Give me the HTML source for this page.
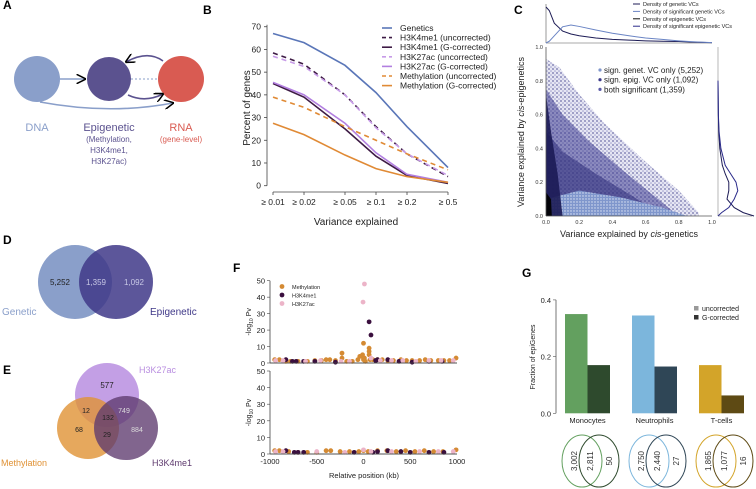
<!DOCTYPE html>
<html><head><meta charset="utf-8"><style>
body{margin:0;background:#fff}
svg{display:block;font-family:"Liberation Sans",sans-serif}
</style></head><body>
<svg id="fig" width="756" height="489" viewBox="0 0 756 489" xmlns="http://www.w3.org/2000/svg">
<defs>
<pattern id="dots" width="4" height="4" patternUnits="userSpaceOnUse"><rect width="4" height="4" fill="#8a8ac4" opacity="0.35"/><circle cx="1" cy="1" r="1" fill="#3c3a8a"/><circle cx="3" cy="3" r="0.8" fill="#5a5aa8"/></pattern>
<pattern id="dots2" width="3" height="3" patternUnits="userSpaceOnUse"><rect width="3" height="3" fill="#7f96cc"/><circle cx="1" cy="1" r="0.7" fill="#dfe6f5"/></pattern>
<marker id="arr" viewBox="0 0 10 10" refX="9" refY="5" markerWidth="6" markerHeight="6" orient="auto"><path d="M0,0L10,5L0,10" fill="none" stroke="currentColor" stroke-width="1.6"/></marker>
</defs>
<!-- Panel A -->
<g>
<text x="3" y="9" font-weight="bold" font-size="12">A</text>
<circle cx="37" cy="79" r="23" fill="#8a9fca"/>
<circle cx="109" cy="79" r="22" fill="#5b528f"/>
<circle cx="181" cy="79" r="23" fill="#d95b52"/>
<line x1="60" y1="79" x2="85" y2="79" stroke="#8a9fca" stroke-width="1.6" color="#8a9fca" marker-end="url(#arr)"/>
<line x1="131" y1="79" x2="158" y2="79" stroke="#8a9fca" stroke-width="1" stroke-dasharray="2,2"/>
<path d="M40,102 Q110,115 173,103" fill="none" stroke="#8a9fca" stroke-width="1.6" color="#8a9fca" marker-end="url(#arr)"/>
<path d="M163,61 Q148,50 126,62" fill="none" stroke="#5b528f" stroke-width="1.6" color="#5b528f" marker-end="url(#arr)"/>
<path d="M128,95 Q145,103 163,94" fill="none" stroke="#5b528f" stroke-width="1.6" color="#5b528f" marker-end="url(#arr)"/>
<text x="37" y="131" font-size="11" fill="#8a9fca" text-anchor="middle">DNA</text>
<text x="109" y="131" font-size="11" fill="#5b528f" text-anchor="middle">Epigenetic</text>
<text x="109" y="142" font-size="8" fill="#5b528f" text-anchor="middle">(Methylation,</text>
<text x="109" y="153" font-size="8" fill="#5b528f" text-anchor="middle">H3K4me1,</text>
<text x="109" y="164" font-size="8" fill="#5b528f" text-anchor="middle">H3K27ac)</text>
<text x="181" y="131" font-size="11" fill="#d95b52" text-anchor="middle">RNA</text>
<text x="181" y="142" font-size="8" fill="#d95b52" text-anchor="middle">(gene-level)</text>
</g>
<!-- Panel D -->
<g>
<text x="3" y="244" font-weight="bold" font-size="12">D</text>
<circle cx="75" cy="282" r="37" fill="#8a9fca"/>
<circle cx="116" cy="282" r="37" fill="#3f3888" opacity="0.85"/>
<text x="60" y="285" font-size="8" text-anchor="middle" fill="#222">5,252</text>
<text x="96" y="285" font-size="8" text-anchor="middle" fill="#c9c9e6">1,359</text>
<text x="134" y="285" font-size="8" text-anchor="middle" fill="#c9c9e6">1,092</text>
<text x="2" y="315" font-size="10" fill="#8a9fca">Genetic</text>
<text x="150" y="315" font-size="10" fill="#3f3888">Epigenetic</text>
</g>
<!-- Panel E -->
<g>
<text x="3" y="374" font-weight="bold" font-size="12">E</text>
<circle cx="107" cy="395" r="32" fill="#b98ee0" opacity="0.85"/>
<circle cx="88" cy="428" r="31" fill="#e09235" opacity="0.8"/>
<circle cx="126" cy="428" r="32" fill="#5e3a6e" opacity="0.78"/>
<text x="107" y="388" font-size="8" text-anchor="middle" fill="#222">577</text>
<text x="86" y="413" font-size="7" text-anchor="middle" fill="#222">12</text>
<text x="124" y="413" font-size="7" text-anchor="middle" fill="#ddd">749</text>
<text x="108" y="420" font-size="7" text-anchor="middle" fill="#222">132</text>
<text x="79" y="432" font-size="7" text-anchor="middle" fill="#222">68</text>
<text x="107" y="437" font-size="7" text-anchor="middle" fill="#222">29</text>
<text x="137" y="432" font-size="7" text-anchor="middle" fill="#ddd">884</text>
<text x="139" y="373" font-size="9" fill="#b98ee0">H3K27ac</text>
<text x="1" y="466" font-size="9" fill="#e09235">Methylation</text>
<text x="152" y="466" font-size="9" fill="#5e3a6e">H3K4me1</text>
</g>
<g id="pb">
<text x="203" y="14" font-weight="bold" font-size="12">B</text>
</g>
<g id="pc">
<text x="514" y="14" font-weight="bold" font-size="12">C</text>
</g>
<g id="pf">
<text x="233" y="272" font-weight="bold" font-size="12">F</text>
</g>
<g id="pg">
<text x="522" y="277" font-weight="bold" font-size="12">G</text>
</g>
</svg>
<script>
const NS="http://www.w3.org/2000/svg";
function mk(parent,tag,attrs,txt){const e=document.createElementNS(NS,tag);for(const k in attrs)e.setAttribute(k,attrs[k]);if(txt!==undefined)e.textContent=txt;parent.appendChild(e);return e;}

// ---------- Panel B data ----------
const bThresholds=[0.01,0.02,0.05,0.1,0.2,0.5];
const bTickLabels=["≥ 0.01","≥ 0.02","≥ 0.05","≥ 0.1","≥ 0.2","≥ 0.5"];
const bYTicks=[0,10,20,30,40,50,60,70];
const bNames=["Genetics","H3K4me1 (uncorrected)","H3K4me1 (G-corrected)","H3K27ac (uncorrected)","H3K27ac (G-corrected)","Methylation (uncorrected)","Methylation (G-corrected)"];
const genetics=[67,63,53,41,26,8];
const h3k4me1Unc=[58.5,53.5,40,26,14,4];
const h3k4me1G=[45,39,25,13,4.5,1];
const h3k27acUnc=[57,52.5,40,25.5,14,4.5];
const h3k27acG=[45.5,40,27.5,14.5,5,1.5];
const methUnc=[39,34.5,26,20,14,7];
const methG=[27.5,22.5,13.5,7.5,4,1.5];
(function(){
 const g=document.getElementById('pb');
 const bx=v=>273+(Math.log10(v)+2)*103, by=v=>185.7-v*2.271;
 const series=[genetics,h3k4me1Unc,h3k4me1G,h3k27acUnc,h3k27acG,methUnc,methG];
 const cols=["#5a76b8","#3e1b45","#3e1b45","#c79be8","#b27fe0","#e08a35","#e08a35"];
 const dash=[null,"5,4",null,"5,4",null,"5,4",null];
 const ax=mk(g,'line',{x1:267,y1:by(70)-2,x2:267,y2:by(0),stroke:'#444','stroke-width':0.8});
 
 const xa=mk(g,'line',{x1:273,y1:192,x2:bx(0.5),y2:192,stroke:'#444','stroke-width':0.8});
 
 bYTicks.forEach(t=>{mk(g,'line',{x1:264,x2:267,y1:by(t),y2:by(t),stroke:'#444','stroke-width':0.8});
  const l=mk(g,'text',{x:261,y:by(t)+3,'font-size':8.5,'text-anchor':'end',fill:'#222'},t);
  });
 bThresholds.forEach((t,i)=>{mk(g,'line',{x1:bx(t),x2:bx(t),y1:192,y2:195,stroke:'#444','stroke-width':0.8});
  const l=mk(g,'text',{x:bx(t),y:205,'font-size':8.5,'text-anchor':'middle',fill:'#222'},bTickLabels[i]);
  });
 const yt=mk(g,'text',{x:0,y:0,'font-size':10,'text-anchor':'middle',fill:'#222',transform:'translate(250,108) rotate(-90)'},'Percent of genes');
 
 const xt=mk(g,'text',{x:356,y:225,'font-size':10,'text-anchor':'middle',fill:'#222'},'Variance explained');
 
 series.forEach((s,i)=>{const p=mk(g,'polyline',{points:s.map((v,j)=>bx(bThresholds[j])+','+by(v)).join(' '),fill:'none',stroke:cols[i],'stroke-width':1.6});
  if(dash[i])p.setAttribute('stroke-dasharray',dash[i]);
  
  const y=31+i*9.6;
  const ll=mk(g,'line',{x1:382,x2:392,y1:y-3,y2:y-3,stroke:cols[i],'stroke-width':1.6});if(dash[i])ll.setAttribute('stroke-dasharray','4,3');
  const lt=mk(g,'text',{x:400,y:y,'font-size':8.5,fill:'#222'},bNames[i]);
  });
})();

// ---------- Panel C data ----------
const cTicks=[0,0.2,0.4,0.6,0.8,1.0];
const cLegend=["sign. genet. VC only (5,252)","sign. epig. VC only (1,092)","both significant (1,359)"];
const cDensityLegend=["Density of genetic VCs","Density of significant genetic VCs","Density of epigenetic VCs","Density of significant epigenetic VCs"];
const cDensX=[0,0.02,0.05,0.1,0.15,0.2,0.3,0.4,0.5,0.6,0.7,0.8,0.9,1.0];
const densGenetic=[1.0,0.9,0.55,0.33,0.25,0.2,0.14,0.1,0.08,0.06,0.05,0.04,0.02,0.01];
const densSigGenetic=[0.0,0.05,0.2,0.45,0.5,0.46,0.36,0.27,0.2,0.14,0.1,0.06,0.03,0.01];
const cDensY=[0,0.02,0.05,0.1,0.15,0.2,0.25,0.3,0.4,0.5,0.6,0.8];
const densEpig=[1.0,0.7,0.45,0.25,0.3,0.3,0.2,0.12,0.05,0.02,0.01,0];
const densSigEpig=[0.0,0.1,0.3,0.45,0.55,0.5,0.35,0.2,0.08,0.03,0.01,0];
(function(){
 const g=document.getElementById('pc');
 const cx=v=>546+v*166, cy=v=>216-v*169;
 const regions=[
  {pts:[[0,0],[0,0.93],[0.08,0.88],[0.2,0.72],[0.35,0.55],[0.6,0.32],[0.8,0.15],[0.92,0.02],[0.92,0]],fill:'url(#dots)',op:0.6},
  {pts:[[0,0],[0,0.75],[0.1,0.6],[0.25,0.45],[0.45,0.28],[0.65,0.12],[0.8,0]],fill:'#403e92',op:0.55},
  {pts:[[0,0],[0,0.5],[0.1,0.38],[0.3,0.25],[0.55,0.1],[0.7,0]],fill:'#2f2d7a',op:0.55},
  {pts:[[0,0],[0,0.1],[0.2,0.15],[0.45,0.11],[0.7,0.05],[0.85,0]],fill:'url(#dots2)',op:1},
  {pts:[[0,0],[0,0.72],[0.03,0.5],[0.07,0.25],[0.1,0]],fill:'#1c1b55',op:0.9},
  {pts:[[0,0],[0,0.14],[0.03,0.1],[0.035,0]],fill:'#000',op:0.9}];
 regions.forEach(r=>{const p=mk(g,'polygon',{points:r.pts.map(q=>cx(q[0])+','+cy(q[1])).join(' '),fill:r.fill,opacity:r.op});
  });
 mk(g,'line',{x1:546,y1:47,x2:546,y2:216,stroke:'#555','stroke-width':0.8});
 mk(g,'line',{x1:546,y1:216,x2:712,y2:216,stroke:'#555','stroke-width':0.8});
 cTicks.forEach(t=>{mk(g,'text',{x:cx(t),y:224,'font-size':5.5,'text-anchor':'middle',fill:'#333'},t.toFixed(1));
  mk(g,'text',{x:543,y:cy(t)+2,'font-size':5.5,'text-anchor':'end',fill:'#333'},t.toFixed(1));});
 const xt=mk(g,'text',{x:629,y:237,'font-size':9,'text-anchor':'middle',fill:'#222'},'');
 xt.innerHTML='Variance explained by <tspan font-style="italic">cis</tspan>-genetics';
 
 const yt=mk(g,'text',{x:0,y:0,'font-size':9,'text-anchor':'middle',fill:'#222',transform:'translate(524,132) rotate(-90)'},'');
 yt.innerHTML='Variance explained by <tspan font-style="italic">cis</tspan>-epigenetics';
 
 const lc=['#7f96cc','#3e3c8c','#5b5ba8'];
 cLegend.forEach((t,i)=>{const y=73+i*9.7;mk(g,'circle',{cx:600,cy:y-3,r:1.6,fill:lc[i]});
  const e=mk(g,'text',{x:604,y:y,'font-size':8,fill:'#222'},t);});
 mk(g,'line',{x1:546,y1:4,x2:546,y2:43,stroke:'#555','stroke-width':0.6});
 mk(g,'line',{x1:546,y1:43,x2:712,y2:43,stroke:'#555','stroke-width':0.6});
 const ty=v=>43-v*36;
 [[densGenetic,'#1c1b55'],[densSigGenetic,'#6a84c4']].forEach(([d,c])=>{const p=mk(g,'polyline',{points:d.map((v,i)=>cx(cDensX[i])+','+ty(v)).join(' '),fill:'none',stroke:c,'stroke-width':1});
  });
 mk(g,'line',{x1:718,y1:47,x2:718,y2:216,stroke:'#888','stroke-width':0.6});
 mk(g,'line',{x1:718,y1:216,x2:752,y2:216,stroke:'#555','stroke-width':0.6});
 const rx=v=>718+v*36;
 [[densEpig,'#1c1b55'],[densSigEpig,'#2a2a8a']].forEach(([d,c])=>{const p=mk(g,'polyline',{points:d.map((v,i)=>rx(v)+','+cy(cDensY[i])).join(' '),fill:'none',stroke:c,'stroke-width':1});
  });
 const dc=['#1c1b55','#6a84c4','#111','#2a2a8a'];
 cDensityLegend.forEach((t,i)=>{const y=6+i*7.4;mk(g,'line',{x1:633,x2:640,y1:y-2,y2:y-2,stroke:dc[i],'stroke-width':1});
  const e=mk(g,'text',{x:643,y:y,'font-size':5.5,fill:'#222'},t);});
})();

// ---------- Panel F data ----------
const fXTicks=[-1000,-500,0,500,1000];
const fYTicks=[0,10,20,30,40,50];
const fNames=["Methylation","H3K4me1","H3K27ac"];
const fMethPos=[-950,-900,-830,-780,-700,-600,-520,-450,-400,-360,-300,-230,-230,-180,-120,-60,-40,-10,0,0,0,10,20,60,60,60,70,100,150,200,260,320,400,460,520,600,660,720,800,860,920,990];
const fMethVal=[2,2,1,1,1,1,1.5,1.5,2,2,1.5,6,3,1,1,2,4,5,12,3,2,3,1,9,7,5,2,2,2,2,1.5,1.5,2,1.5,1.5,1.5,2,1.5,1.5,1.5,1.5,3];
const fH3k4Pos=[-830,-760,-720,-640,-520,-300,60,80,130,150,260,380,520,700,840];
const fH3k4Val=[2,1,1,1,1,0.5,25,17,1.5,2,2,1,0.5,1,1];
const fH3k27Pos=[-940,-860,-620,-460,-240,-150,-5,10,80,180,300,420,560,700,830,960];
const fH3k27Val=[1.5,1.5,1,1.5,1,1,37,48,3,1.5,1.5,1.5,1,1.5,1.5,1.5];
const fMethPosB=[-950,-900,-800,-700,-600,-500,-400,-350,-250,-150,-50,0,50,150,250,350,450,550,650,750,850,990];
const fMethValB=[2,2,1.5,1,1,1,2,2,1.5,1.5,1.5,2,1.5,2,2,1.5,2,1.5,2,1.5,1.5,2.5];
const fH3k4PosB=[-830,-740,-700,-640,-100,100,150,260,400,500,700,860];
const fH3k4ValB=[2,1,1,1,1,1,1.5,2,1.5,1,1,1];
const fH3k27PosB=[-940,-860,-500,-200,0,80,300,600,800,960];
const fH3k27ValB=[1.5,1.5,1.5,1,2.5,1.5,1.5,1.5,1.5,1.5];
(function(){
 const g=document.getElementById('pf');
 const fx=v=>363.5+v*0.0935;
 const cols=['#d48a33','#3a0f3e','#ecb4c8'];
 function panel(y0,y50,sets,legend){
  const fy=v=>y0-(v/50)*(y0-y50);
  mk(g,'line',{x1:270,y1:y50,x2:270,y2:y0,stroke:'#444','stroke-width':0.8});
  mk(g,'line',{x1:270,y1:y0,x2:457,y2:y0,stroke:'#444','stroke-width':0.8});
  fYTicks.forEach(t=>{mk(g,'line',{x1:267,x2:270,y1:fy(t),y2:fy(t),stroke:'#444','stroke-width':0.6});
   const l=mk(g,'text',{x:265,y:fy(t)+3,'font-size':7.5,'text-anchor':'end',fill:'#222'},t);});
  const yt=mk(g,'text',{x:0,y:0,'font-size':7,'text-anchor':'middle',fill:'#222',transform:`translate(251,${(y0+y50)/2}) rotate(-90)`},'');
  yt.innerHTML='-log<tspan font-size="5" dy="2">10</tspan><tspan dy="-2"> Pv</tspan>';
  
  sets.forEach(([pos,val],k)=>pos.forEach((p,i)=>{const c=mk(g,'circle',{cx:fx(p),cy:fy(val[i]),r:2.4,fill:cols[k]});
   }));
  mk(g,'line',{x1:270,y1:y0,x2:457,y2:y0,stroke:'#444','stroke-width':0.8});
  if(legend)fNames.forEach((n,i)=>{const y=289+i*8.5;mk(g,'circle',{cx:282,cy:y-2.5,r:2.4,fill:cols[i]});
   const e=mk(g,'text',{x:292,y:y,'font-size':5.5,fill:'#222'},n);});
 }
 panel(363,280.7,[[fMethPos,fMethVal],[fH3k4Pos,fH3k4Val],[fH3k27Pos,fH3k27Val]],true);
 panel(454,371,[[fMethPosB,fMethValB],[fH3k4PosB,fH3k4ValB],[fH3k27PosB,fH3k27ValB]],false);
 fXTicks.forEach(t=>{const l=mk(g,'text',{x:fx(t),y:464,'font-size':7.5,'text-anchor':'middle',fill:'#222'},t);});
 const xt=mk(g,'text',{x:364,y:478,'font-size':7.5,'text-anchor':'middle',fill:'#222'},'Relative position (kb)');
 
})();

// ---------- Panel G data ----------
const gCells=["Monocytes","Neutrophils","T-cells"];
const gUncorrected=[0.35,0.345,0.17];
const gCorrected=[0.17,0.165,0.063];
const gYTicks=[0,0.2,0.4];
const gVennLeft=["3,002","2,750","1,865"];
const gVennMid=["2,811","2,440","1,077"];
const gVennRight=["50","27","16"];
(function(){
 const g=document.getElementById('pg');
 const gy=v=>413.3-v*283.5;
 const uc=['#63a05f','#7cb6dc','#d3a429'], cc=['#2e4a2d','#2f4656','#5e4a14'];
 mk(g,'line',{x1:556,y1:gy(0.4),x2:556,y2:gy(0),stroke:'#555','stroke-width':0.8});
 gYTicks.forEach(t=>{mk(g,'line',{x1:553,x2:556,y1:gy(t),y2:gy(t),stroke:'#555','stroke-width':0.6});
  const l=mk(g,'text',{x:551,y:gy(t)+3,'font-size':7.5,'text-anchor':'end',fill:'#222'},t.toFixed(1));});
 const yt=mk(g,'text',{x:0,y:0,'font-size':7,'text-anchor':'middle',fill:'#222',transform:'translate(535,357) rotate(-90)'},'Fraction of epiGenes');
 
 gCells.forEach((c,i)=>{const x0=565+i*67;
  const b1=mk(g,'rect',{x:x0,y:gy(gUncorrected[i]),width:22.5,height:gy(0)-gy(gUncorrected[i]),fill:uc[i]});
  
  const b2=mk(g,'rect',{x:x0+22.5,y:gy(gCorrected[i]),width:22.5,height:gy(0)-gy(gCorrected[i]),fill:cc[i]});
  
  const l=mk(g,'text',{x:x0+22.5,y:423,'font-size':7.5,'text-anchor':'middle',fill:'#222'},c);
  const vx=x0+22, vy=461;
  mk(g,'ellipse',{cx:vx-5,cy:vy,rx:20,ry:26,fill:'none',stroke:uc[i],'stroke-width':1});
  mk(g,'ellipse',{cx:vx+12,cy:vy,rx:20,ry:26,fill:'none',stroke:cc[i],'stroke-width':1});
  [[vx-13,gVennLeft[i]],[vx+3,gVennMid[i]],[vx+22,gVennRight[i]]].forEach(([x,t])=>{
   const e=mk(g,'text',{x:0,y:0,'font-size':8,'text-anchor':'middle',fill:'#333',transform:`translate(${x+3},${vy}) rotate(-90)`},t);
   });
 });
 [['uncorrected','#999'],['G-corrected','#333']].forEach(([t,c],i)=>{const y=311+i*9;mk(g,'rect',{x:694,y:y-5,width:4.5,height:4.5,fill:c});
  const e=mk(g,'text',{x:702,y:y,'font-size':7,fill:'#222'},t);});
})();
</script>
</body></html>
